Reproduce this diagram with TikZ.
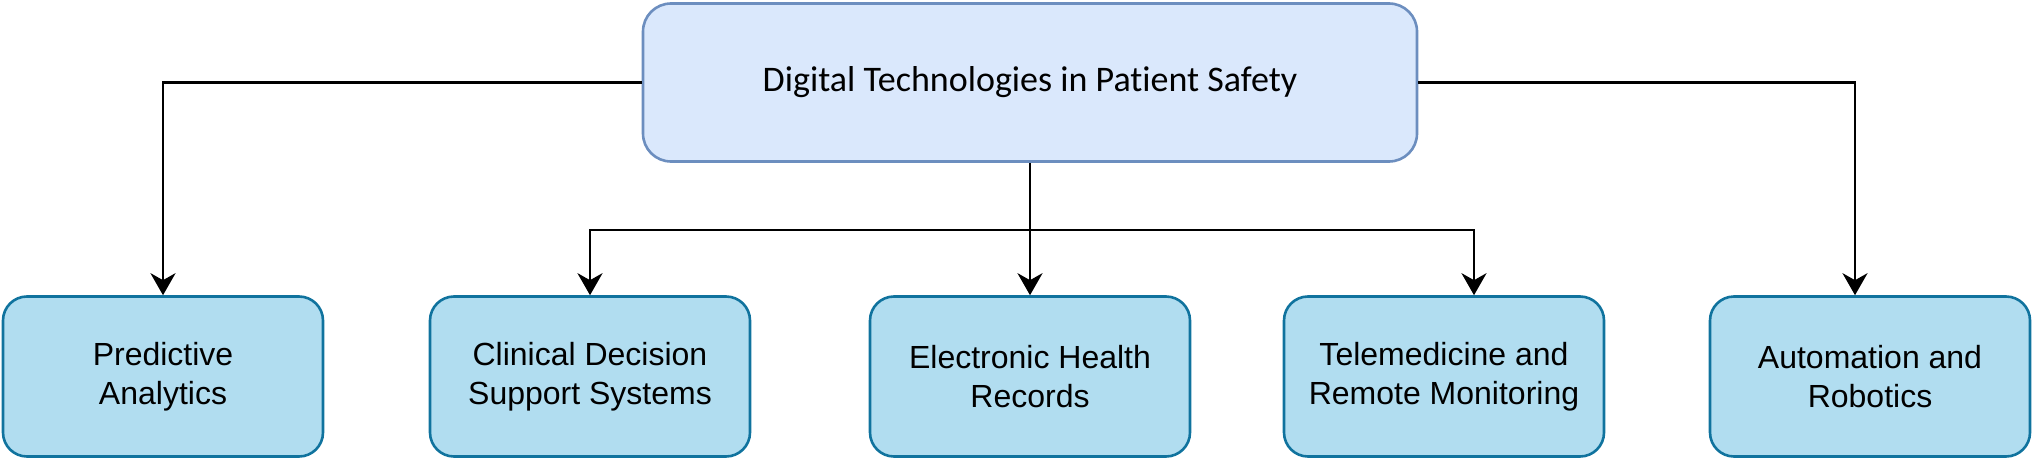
\documentclass[tikz,border=0pt]{standalone}
\usepackage{fontspec}
\setmainfont{Liberation Sans}
\newfontfamily\calibri[Ligatures=NoCommon]{Carlito}
\usetikzlibrary{arrows.meta}
\definecolor{topfill}{HTML}{DAE8FC}
\definecolor{topline}{HTML}{6C8EBF}
\definecolor{subfill}{HTML}{B1DDF0}
\definecolor{subline}{HTML}{10739E}
\begin{document}
\begin{tikzpicture}[x=0.5pt,y=-0.5pt,
    rootbox/.style={draw=topline,fill=topfill,line width=1.3pt,rounded corners=14pt,
      minimum width=387pt,minimum height=79pt,inner sep=0pt,
      font=\calibri\fontsize{18}{22}\selectfont},
    leafbox/.style={draw=subline,fill=subfill,line width=1.3pt,rounded corners=12pt,
      minimum width=160pt,minimum height=80pt,inner sep=0pt,align=center,
      font=\fontsize{16}{19.5}\selectfont},
    arr/.style={-{Stealth[length=11pt,width=12.5pt,inset=3.5pt]},line width=1.4pt}]
  \useasboundingbox (0,0) rectangle (2034,460);
  \node[rootbox] (top) at (1030,82.5) {Digital Technologies in Patient Safety};
  \node[leafbox] (pa) at (163,376.5) {Predictive\\Analytics};
  \node[leafbox] (cdss) at (590,376.5) {Clinical Decision\\Support Systems};
  \node[leafbox] (ehr) at (1030,376.5) {Electronic Health\\Records};
  \node[leafbox] (tele) at (1444,376.5) {Telemedicine and\\Remote Monitoring};
  \node[leafbox] (auto) at (1870,376.5) {Automation and\\Robotics};
  \coordinate (bus) at (1030,230);
  \draw[arr] (top.west) -| (pa.north);
  \draw[arr] (top.east) -| ([xshift=-7.5pt]auto.north);
  \draw[arr] (top.south) -- (ehr.north);
  \draw[arr] (bus) -| (cdss.north);
  \draw[arr] (bus) -| ([xshift=15pt]tele.north);
\end{tikzpicture}
\end{document}
